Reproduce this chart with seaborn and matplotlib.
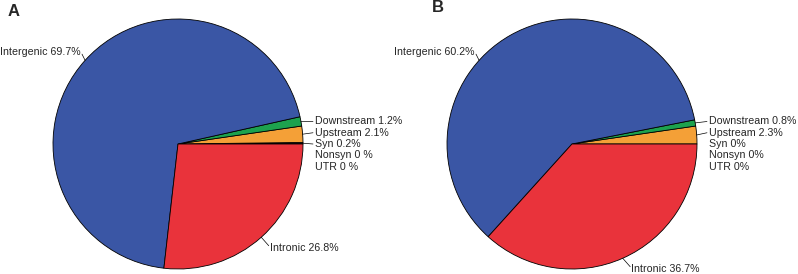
#!/usr/bin/env python3
"""
Genomic annotation pie charts (panels A and B)
"""

import numpy as np
import matplotlib
matplotlib.use("Agg")
import matplotlib.pyplot as plt
import seaborn as sns

# categories, counter-clockwise from 3 o'clock
categories = ["UTR", "Nonsyn", "Syn", "Upstream", "Downstream", "Intergenic", "Intronic"]
values_a = [0.0, 0.0, 0.2, 2.1, 1.2, 69.7, 26.8]
values_b = [0.0, 0.0, 0.0, 2.3, 0.8, 60.2, 36.7]
labels_a = ["UTR 0 %", "Nonsyn 0 %", "Syn 0.2%", "Upstream 2.1%", "Downstream 1.2%",
            "Intergenic 69.7%", "Intronic 26.8%"]
labels_b = ["UTR 0%", "Nonsyn 0%", "Syn 0%", "Upstream 2.3%", "Downstream 0.8%",
            "Intergenic 60.2%", "Intronic 36.7%"]

colors = ["#222222", "#222222", "#111111", "#F4A037", "#1DA24E", "#3A56A5", "#E9333B"]

FS = 7.7


def draw_pie(ax, values, labels, big_angle_override=None):
    big_angle_override = big_angle_override or {}
    wedges, _ = ax.pie(values, colors=colors, startangle=0, counterclock=True,
                       radius=1.0, wedgeprops=dict(edgecolor="black", linewidth=0.6))
    ax.set_xlim(-1, 1)
    ax.set_ylim(-1, 1)
    ax.set_aspect("equal")
    ax.axis("off")

    for i, (w, lab, v) in enumerate(zip(wedges, labels, values)):
        mid = np.deg2rad((w.theta1 + w.theta2) / 2)
        if v < 5:
            # small slices: stacked labels to the right
            ty = (i - 2) * 0.09
            ax.text(1.095, ty, lab, ha="left", va="center", fontsize=FS, clip_on=False)
            if v > 0:
                ax.plot([np.cos(mid), 1.08], [np.sin(mid), ty], color="black",
                        lw=0.5, clip_on=False)
        else:
            ang = np.deg2rad(big_angle_override.get(categories[i], np.rad2deg(mid)))
            ex, ey = np.cos(ang), np.sin(ang)
            if ex < 0:
                tx, ty = ex - 0.035, ey + 0.07
            else:
                tx, ty = ex + 0.07, ey - 0.088
            ax.plot([ex, tx + (0.01 if ex < 0 else -0.01)], [ey, ty + (-0.02 if ey > 0 else 0.02)],
                    color="black", lw=0.5, clip_on=False)
            ax.text(tx, ty, lab, ha="right" if ex < 0 else "left", va="center",
                    fontsize=FS, clip_on=False)


sns.set_theme(style="white")
plt.rcParams["font.family"] = ["Liberation Sans", "DejaVu Sans"]

W, H = 798, 274
fig = plt.figure(figsize=(W / 100, H / 100), dpi=100)
R = 125
ax_a = fig.add_axes([(178 - R) / W, (H - 144 - R) / H, 2 * R / W, 2 * R / H])
ax_b = fig.add_axes([(572 - R) / W, (H - 144 - R) / H, 2 * R / W, 2 * R / H])

draw_pie(ax_a, values_a, labels_a, {"Intergenic": 138})
draw_pie(ax_b, values_b, labels_b, {"Intergenic": 138})

fig.text(8 / W, 1 - 11 / H, "A", fontsize=12, fontweight="bold", va="center", ha="left")
fig.text(432 / W, 1 - 8 / H, "B", fontsize=12, fontweight="bold", va="center", ha="left")

fig.savefig("out.png", dpi=100)
